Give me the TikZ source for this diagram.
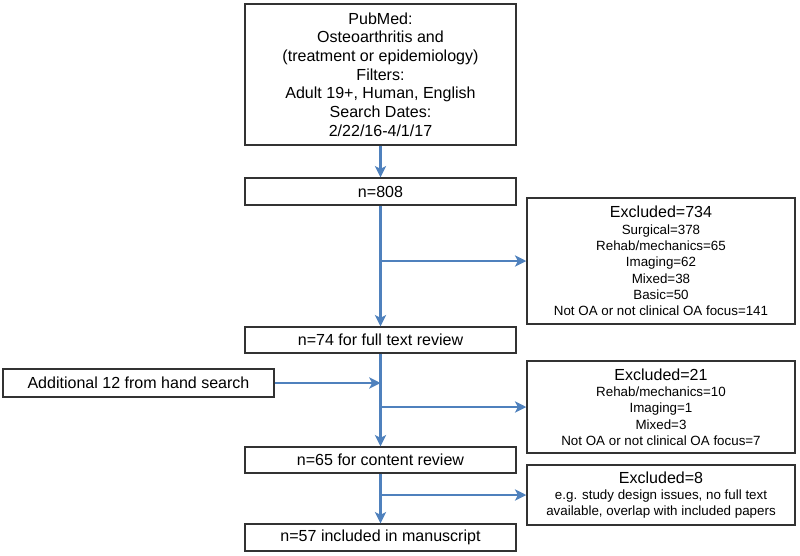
\documentclass[tikz,border=0pt]{standalone}
\usepackage{fontspec}
\setmainfont{Liberation Sans}
\usepackage{tikz}
\usetikzlibrary{arrows.meta, positioning, calc}
\definecolor{flowblue}{RGB}{79, 129, 189}
\definecolor{boxgray}{RGB}{50, 50, 50}

\begin{document}
\begin{tikzpicture}[
    x=0.025cm, y=-0.025cm,
    mainbox/.style={rectangle, draw=boxgray, line width=1pt, minimum width=6.775cm, minimum height=#1, inner sep=0pt, align=center, font=\fontsize{11.4}{13.3}\selectfont},
    exbox/.style={rectangle, draw=boxgray, line width=1pt, minimum width=6.7cm, minimum height=#1, inner sep=0pt, align=center, font=\fontsize{9.5}{11.6}\selectfont},
    arr/.style={-{Stealth[length=8pt, width=8pt, inset=2pt]}, line width=1.8pt, flowblue}
]
\useasboundingbox (0,0) rectangle (800,555);

\node[mainbox=3.525cm] (pubmed) at (380.5, 74.5) {PubMed:\\Osteoarthritis and\\(treatment or epidemiology)\\Filters:\\Adult 19+, Human, English\\Search Dates:\\2/22/16-4/1/17};
\node[mainbox=0.675cm] (n808) at (380.5, 191.5) {n=808};
\node[mainbox=0.65cm] (n74) at (380.5, 340) {n=74 for full text review};
\node[mainbox=0.7cm] (hand) at (138.5, 383) {Additional 12 from hand search};
\node[mainbox=0.65cm] (n65) at (380.5, 460) {n=65 for content review};
\node[mainbox=0.675cm] (n57) at (380.5, 537.5) {n=57 included in manuscript};

\node[exbox=3.15cm] (ex734) at (661, 261) {{\fontsize{11.4}{13.3}\selectfont Excluded=734}\\Surgical=378\\Rehab/mechanics=65\\Imaging=62\\Mixed=38\\Basic=50\\Not OA or not clinical OA focus=141};
\node[exbox=2.3cm] (ex21) at (661, 407) {{\fontsize{11.4}{13.3}\selectfont Excluded=21}\\Rehab/mechanics=10\\Imaging=1\\Mixed=3\\Not OA or not clinical OA focus=7};
\node[exbox=1.5cm] (ex8) at (661, 495) {{\fontsize{11.4}{13.3}\selectfont Excluded=8}\\e.g. study design issues, no full text\\available, overlap with included papers};

% branch points on the main line
\coordinate (b734) at (n808.south |- ex734.west);
\coordinate (b21) at (n74.south |- ex21.west);
\coordinate (b8) at (n65.south |- ex8.west);
\coordinate (jhand) at (n74.south |- hand.east);

\draw[arr] (pubmed) -- (n808);
\draw[arr] (n808) -- (n74);
\draw[arr] (n74) -- (n65);
\draw[arr] (n65) -- (n57);

\draw[arr] (b734) -- (ex734.west);
\draw[arr] (b21) -- (ex21.west);
\draw[arr] (b8) -- (ex8.west);
\draw[arr] (hand.east) -- (jhand);

\end{tikzpicture}
\end{document}
